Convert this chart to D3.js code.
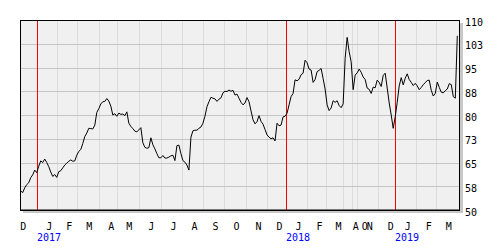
<!DOCTYPE html>
<html>
<head>
<meta charset="utf-8">
<script src="https://cdn.jsdelivr.net/npm/d3@7/dist/d3.min.js"></script>
<style>
body { margin: 0; background: #fff; }
text { font-family: "DejaVu Sans Mono", monospace; font-size: 10px; }
</style>
</head>
<body>
<div id="chart"></div>
<script>
// one label per month shown on the axis (apr-sep 2018 has no data)
var monthLabels = ["D", "J", "F", "M", "A", "M", "J", "J", "A", "S", "O", "N", "D",
    "J", "F", "M", "A", "O", "N", "D", "J", "F", "M"];
// trading days of each month that are in the data
var monthDays = [16, 20, 20, 22, 18, 22, 22, 21, 21, 21, 22, 21, 19,
    21, 19, 17, 9, 5, 21, 17, 21, 20, 21];
// trading days of december 2016 before the first price
var leadDays = 10;
// months where a new year starts
var yearMonths = [1, 13, 20];
var yearLabels = ["2017", "2018", "2019"];
// price every second trading day
var stepDays = 2;
var prices = [
    56.0, 55.5, 57.0, 58.0, 58.6, 60.2, 61.1, 62.6, 61.8, 63.8,
    65.5, 65.0, 66.1, 65.0, 63.7, 62.0, 60.6, 61.2, 60.3, 62.1,
    62.4, 63.3, 64.2, 64.8, 65.4, 65.8, 65.4, 65.5, 67.3, 68.5,
    69.1, 71.0, 73.2, 74.3, 75.8, 75.7, 75.6, 76.8, 80.8, 82.0,
    83.5, 84.2, 84.3, 85.2, 84.4, 82.8, 80.0, 80.4, 79.6, 80.6,
    80.2, 80.3, 79.8, 81.0, 77.4, 76.4, 75.7, 74.9, 74.7, 75.3,
    76.0, 71.2, 69.8, 69.5, 69.7, 72.8, 70.6, 69.3, 67.8, 66.5,
    66.5, 67.2, 66.4, 66.4, 66.7, 67.1, 67.3, 65.6, 70.3, 70.5,
    67.8, 65.6, 65.1, 64.2, 62.6, 73.0, 75.0, 75.2, 75.2, 75.8,
    76.2, 77.4, 79.6, 82.6, 84.2, 85.6, 85.3, 85.1, 84.3, 85.0,
    85.4, 87.0, 87.5, 87.4, 87.9, 87.5, 87.8, 86.3, 86.6, 85.3,
    84.0, 83.2, 83.8, 85.5, 84.2, 81.3, 78.5, 77.2, 77.9, 79.8,
    78.0, 77.1, 75.4, 73.7, 73.0, 72.5, 72.8, 71.8, 77.4, 76.6,
    76.8, 79.4, 79.6, 80.6, 83.2, 85.8, 86.8, 91.1, 90.8, 91.3,
    92.7, 93.2, 97.3, 96.5, 94.5, 94.2, 90.3, 91.2, 93.7, 94.1,
    94.7, 91.5, 88.2, 83.2, 81.4, 82.2, 84.5, 84.0, 84.5, 83.0,
    82.3, 83.5, 97.9, 104.5, 100.0, 96.8, 88.0, 92.6, 93.3, 94.5,
    93.5, 92.0, 91.2, 88.5, 88.1, 86.8, 88.8, 88.6, 91.0, 90.3,
    89.0, 92.5, 93.2, 88.5, 83.8, 80.0, 75.8, 79.4, 84.0, 89.2,
    91.8, 89.5, 91.6, 93.0, 91.2, 90.3, 89.3, 90.0, 89.2, 88.0,
    88.7, 89.6, 90.2, 90.9, 91.0, 87.8, 86.0, 86.8, 90.4, 88.7,
    87.2, 87.0, 87.7, 88.2, 89.9, 89.6, 85.8, 85.3, 105.0
];
var yTicks = [50, 57.5, 65, 72.5, 80, 87.5, 95, 102.5, 110];

var margin = { top: 20, right: 40, bottom: 40, left: 20 },
    width = 500 - margin.left - margin.right,
    height = 250 - margin.top - margin.bottom;

var svg = d3.select("#chart").append("svg")
    .attr("width", 500)
    .attr("height", 250)
    .append("g")
    .attr("transform", "translate(" + margin.left + "," + margin.top + ")");

// month start in trading days, first month starts before the data
var monthStart = [];
var acc = 0;
monthDays.forEach(function (d, i) {
    monthStart.push(i === 0 ? -leadDays : acc);
    acc += d;
});

var x = d3.scaleLinear().domain([0, acc]).range([0.7, width - 2.7]);
var y = d3.scaleLinear().domain([50, 110]).range([height, 0]);

// shadow and background
svg.append("rect")
    .attr("x", 3).attr("y", 3)
    .attr("width", width).attr("height", height)
    .style("fill", "#c8c8c8");
svg.append("rect")
    .attr("width", width).attr("height", height)
    .style("fill", "#f0f0f0");

// vertical grid at month starts
svg.selectAll(".vgrid")
    .data(monthStart.slice(1))
    .enter().append("line")
    .attr("class", "vgrid")
    .attr("x1", function (d) { return Math.round(x(d)) + 0.5; })
    .attr("x2", function (d) { return Math.round(x(d)) + 0.5; })
    .attr("y1", 0).attr("y2", height)
    .style("stroke", "#dcdcdc");

// horizontal grid
svg.selectAll(".hgrid")
    .data(yTicks)
    .enter().append("line")
    .attr("class", "hgrid")
    .attr("x1", 0).attr("x2", width)
    .attr("y1", function (d) { return Math.round(y(d)) + 0.5; })
    .attr("y2", function (d) { return Math.round(y(d)) + 0.5; })
    .style("stroke", "#c4c4c4");

// year lines
svg.selectAll(".yline")
    .data(yearMonths)
    .enter().append("line")
    .attr("class", "yline")
    .attr("x1", function (d) { return Math.round(x(monthStart[d])) + 0.5; })
    .attr("x2", function (d) { return Math.round(x(monthStart[d])) + 0.5; })
    .attr("y1", 0).attr("y2", height)
    .style("stroke", "#ff0000");

// price line
var line = d3.line()
    .x(function (d, i) { return x(i * stepDays); })
    .y(function (d) { return y(d); });

svg.append("path")
    .datum(prices)
    .attr("d", line)
    .style("fill", "none")
    .style("stroke", "#000")
    .style("stroke-width", 1);

// frame
svg.append("rect")
    .attr("x", 0.5).attr("y", 0.5)
    .attr("width", width - 1).attr("height", height - 0.5)
    .style("fill", "none")
    .style("stroke", "#000");
svg.append("line")
    .attr("x1", 0).attr("x2", width)
    .attr("y1", height + 0.5).attr("y2", height + 0.5)
    .style("stroke", "#000");

// right axis
svg.append("g")
    .attr("transform", "translate(" + (width + 4) + ",0)")
    .call(d3.axisRight(y).tickValues(yTicks).tickSize(0).tickPadding(1)
        .tickFormat(function (d) { return Math.round(d); }))
    .call(function (g) { g.select(".domain").remove(); })
    .selectAll("text")
    .attr("dy", "0.5em")
    .style("font-family", '"DejaVu Sans Mono", monospace')
    .style("font-size", "10px")
    .style("fill", "#000");

// month labels
svg.selectAll(".month")
    .data(monthLabels)
    .enter().append("text")
    .attr("class", "month")
    .attr("x", function (d, i) { return x(monthStart[i]) + 12.5; })
    .attr("y", height + 20)
    .style("text-anchor", "middle")
    .style("fill", "#000")
    .text(function (d) { return d; });

// year labels
svg.selectAll(".year")
    .data(yearMonths)
    .enter().append("text")
    .attr("class", "year")
    .attr("x", function (d) { return Math.round(x(monthStart[d])); })
    .attr("y", height + 31)
    .style("fill", "#0000ff")
    .text(function (d, i) { return yearLabels[i]; });
</script>
</body>
</html>
